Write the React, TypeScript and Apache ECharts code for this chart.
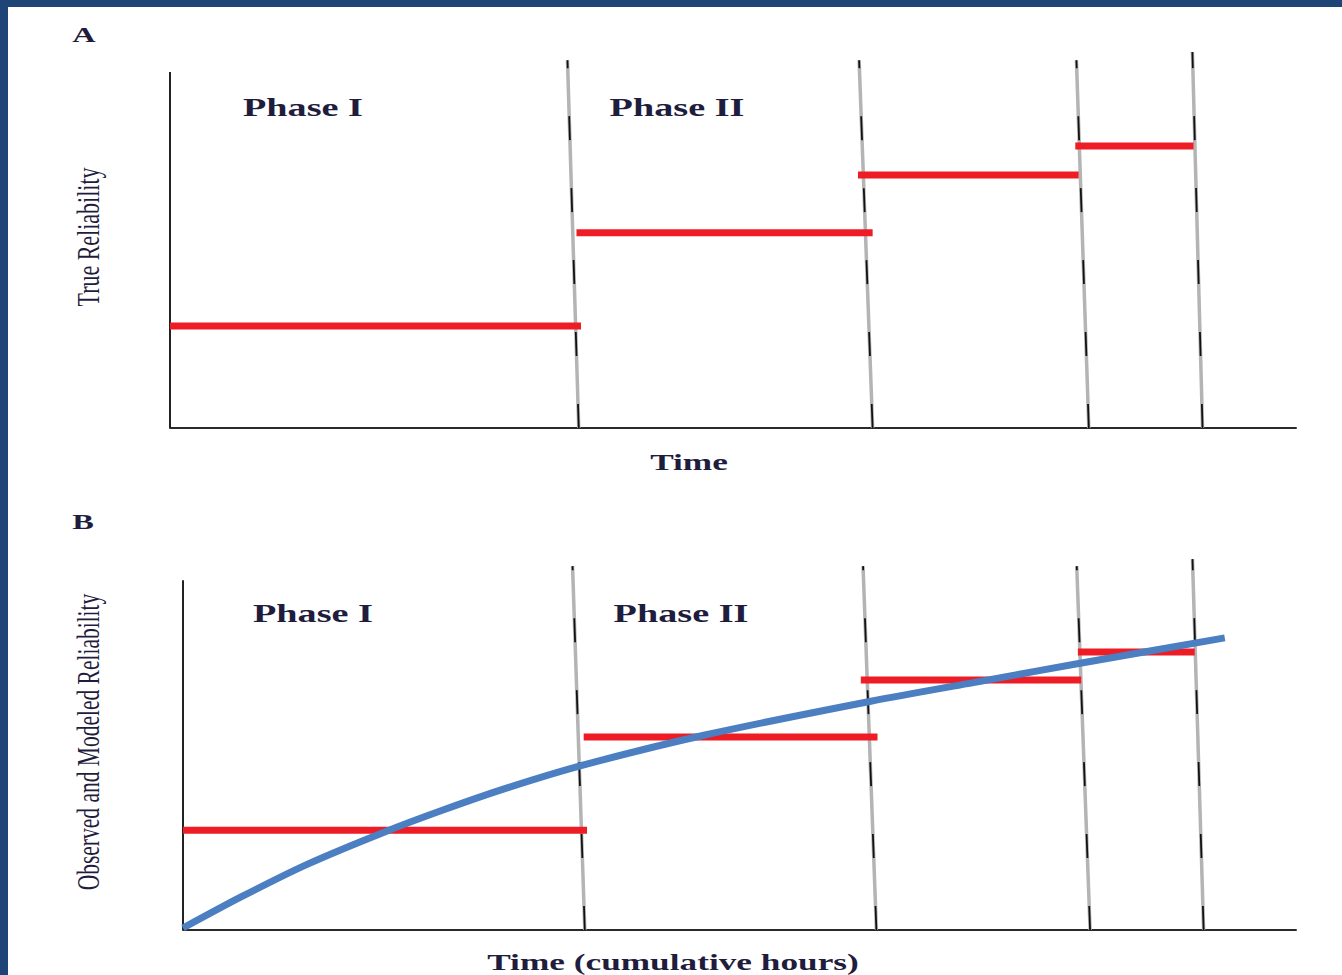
import React, { useEffect, useRef } from "react";
import * as echarts from "echarts";

// ---------- Data (x: time 0–100, y: reliability 0–100 on each panel's scale) ----------
// Panel A – true reliability per phase
const stepStartA = [0, 36.1, 61.1, 80.4];
const stepEndA = [36.5, 62.4, 80.7, 90.9];
const trueReliability = [26.3, 50.3, 65.2, 72.7];
const boundaryBottomA = [36.3, 62.4, 81.6, 91.7];
const boundaryTopA = [35.3, 61.2, 80.5, 90.8];
const boundaryTopYA = [94.8, 94.8, 94.8, 96.9];
const axisTopA = 91.75;

// Panel B – observed reliability per phase and modeled growth curve
const stepStartB = [0, 36.0, 60.9, 80.4];
const stepEndB = [36.3, 62.4, 80.7, 90.9];
const observedReliability = [25.6, 49.5, 64.1, 71.3];
const boundaryBottomB = [36.1, 62.3, 81.5, 91.7];
const boundaryTopB = [35.0, 61.1, 80.3, 90.7];
const boundaryTopYB = [93.3, 93.3, 93.3, 95.1];
const axisTopB = 89.7;
const curveTime = [0, 5.3, 11.2, 17.9, 23.3, 29.2, 36.1, 46.9, 61.7, 72.5, 80.6, 93.6];
const curveReliability = [0.5, 8.6, 16.9, 24.9, 30.7, 36.5, 42.4, 50.0, 58.6, 64.2, 68.4, 74.9];

const phaseLabels = ["Phase I", "Phase II"];

const RED = "#ee1c25";
const BLUE = "#4b7fc2";
const TEXT = "#1f1d3d";
const FONT = "'Liberation Serif', 'Times New Roman', serif";

function buildPanel(g: number, starts: number[], ends: number[], levels: number[],
  bBottom: number[], bTop: number[], bTopY: number[], axisTop: number) {
  const s: any[] = [];
  // left axis line
  s.push({
    type: "line", xAxisIndex: g, yAxisIndex: g, silent: true, showSymbol: false,
    data: [[0, 0], [0, axisTop]],
    lineStyle: { color: "#222", width: 2 }, z: 3,
  });
  // phase boundaries (gray band + black dashes)
  bBottom.forEach((xb, i) => {
    const data = [[xb, 0], [bTop[i], bTopY[i]]];
    s.push({
      type: "line", xAxisIndex: g, yAxisIndex: g, silent: true, showSymbol: false,
      data, lineStyle: { color: "#b4b4b4", width: 3.5 }, z: 2,
    });
    s.push({
      type: "line", xAxisIndex: g, yAxisIndex: g, silent: true, showSymbol: false,
      data, lineStyle: { color: "#111", width: 1.8, type: [24, 48] }, z: 2,
    });
  });
  // reliability steps
  levels.forEach((v, i) => {
    s.push({
      type: "line", xAxisIndex: g, yAxisIndex: g, silent: true, showSymbol: false,
      data: [[starts[i], v], [ends[i], v]],
      lineStyle: { color: RED, width: 7, cap: "butt" }, z: 4,
    });
  });
  return s;
}

function txt(text: string, x: number, y: number, size: number, bold: boolean, extra: any = {}) {
  return {
    type: "text", x, y, silent: true, z: 10, ...extra,
    style: {
      text, fill: TEXT, textAlign: "center", textVerticalAlign: "middle",
      font: `${bold ? "bold " : ""}${size}px ${FONT}`,
    },
  };
}

export default function App() {
  const ref = useRef<HTMLDivElement>(null);
  useEffect(() => {
    if (!ref.current) return;
    const chart = echarts.init(ref.current, null, { renderer: "svg" });
    const axisCommon = {
      type: "value", min: 0, max: 100,
      axisTick: { show: false }, axisLabel: { show: false }, splitLine: { show: false },
    };
    const series = [
      ...buildPanel(0, stepStartA, stepEndA, trueReliability, boundaryBottomA, boundaryTopA, boundaryTopYA, axisTopA),
      ...buildPanel(1, stepStartB, stepEndB, observedReliability, boundaryBottomB, boundaryTopB, boundaryTopYB, axisTopB),
      {
        type: "line", xAxisIndex: 1, yAxisIndex: 1, silent: true, showSymbol: false,
        smooth: 0.3,
        data: curveTime.map((t, i) => [t, curveReliability[i]]),
        lineStyle: { color: BLUE, width: 7, cap: "butt", join: "round" }, z: 5,
      },
    ];
    const SX = 1.47;
    chart.setOption({
      animation: false,
      backgroundColor: "#ffffff",
      grid: [
        { left: 170, top: 40, width: 1126, height: 388 },
        { left: 183, top: 540, width: 1113, height: 390 },
      ],
      xAxis: [0, 1].map((g) => ({
        ...axisCommon, gridIndex: g,
        axisLine: { show: true, onZero: false, lineStyle: { color: "#2a2a2a", width: 2 } },
      })),
      yAxis: [0, 1].map((g) => ({ ...axisCommon, gridIndex: g, axisLine: { show: false } })),
      series,
      graphic: [
        { type: "rect", shape: { x: 0, y: 0, width: 1342, height: 7 }, style: { fill: "#1f4577" }, z: 20 },
        { type: "rect", shape: { x: 0, y: 0, width: 8, height: 975 }, style: { fill: "#1f4577" }, z: 20 },
        txt("A", 84, 34, 22, true, { scaleX: SX }),
        txt("B", 83, 521, 22, true, { scaleX: SX }),
        txt(phaseLabels[0], 303, 107, 26, true, { scaleX: SX }),
        txt(phaseLabels[1], 677, 107, 26, true, { scaleX: SX }),
        txt(phaseLabels[0], 313, 613, 26, true, { scaleX: SX }),
        txt(phaseLabels[1], 681, 613, 26, true, { scaleX: SX }),
        txt("Time", 689, 462, 24, true, { scaleX: SX }),
        txt("Time (cumulative hours)", 673, 962, 24, true, { scaleX: SX }),
        txt("True Reliability", 88, 237, 22, false, { rotation: Math.PI / 2, scaleY: SX }),
        txt("Observed and Modeled Reliability", 88, 742, 21.5, false, { rotation: Math.PI / 2, scaleY: SX }),
      ],
    });
    return () => chart.dispose();
  }, []);
  return (
    <div
      ref={ref}
      style={{ position: "fixed", left: 0, top: 0, width: 1342, height: 975, background: "#fff" }}
    />
  );
}
